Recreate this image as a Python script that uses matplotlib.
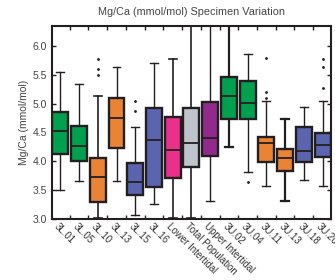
import matplotlib as mpl
mpl.use('Agg')
import matplotlib.pyplot as plt
import matplotlib.ticker as tick

#--------------------------------------------------------------------------------------------------------
# data (Mg/Ca, mmol/mol)

categories = ['3L.01', '3L.05', '3L.10', '3L.13', '3L.15', '3L.16',
              'Lower Intertidal', 'Total Population', 'Upper Intertidal',
              '3U.02', '3U.04', '3U.11', '3U.13', '3U.18', '3U.20']
whis_lo = [3.50, 3.65, 3.02, 3.65, 3.06, 3.25, 3.02, 3.02, 3.30, 4.25, 3.82, 3.56, 3.30, 3.68, 3.57]
q1      = [4.12, 4.00, 3.29, 4.23, 3.41, 3.55, 3.71, 3.90, 4.09, 4.74, 4.73, 3.98, 3.83, 3.98, 4.08]
median  = [4.52, 4.26, 3.72, 4.75, 3.63, 4.37, 4.20, 4.32, 4.41, 5.13, 5.02, 4.31, 4.05, 4.18, 4.28]
q3      = [4.85, 4.62, 4.06, 5.10, 3.97, 4.92, 4.77, 4.92, 5.03, 5.47, 5.40, 4.42, 4.22, 4.60, 4.49]
whis_hi = [5.55, 5.35, 5.13, 5.64, 4.59, 5.70, 5.77, 6.60, 6.60, 6.60, 5.87, 5.04, 4.73, 4.95, 5.05]
outliers = [[], [], [5.77, 5.60, 5.49], [], [5.04, 4.88], [], [], [], [],
            [], [3.64], [5.80, 5.21, 5.09], [], [], [5.77, 5.64, 5.28]]

#--------------------------------------------------------------------------------------------------------

green, orange, blue, pink, grey, purple = '#00a04f', '#ea8434', '#5b64ae', '#e8308c', '#bfc3cb', '#922a8e'
vColor = [green, green, orange, orange, blue, blue, pink, grey, purple,
          green, green, orange, orange, blue, blue]
vWhisLw = [1.0, 1.0, 1.2, 1.0, 1.0, 1.0, 1.2, 1.2, 1.0, 1.6, 1.0, 1.0, 1.6, 1.0, 1.0]
ink = '#231f20'

plt.rcParams['font.family'] = ['Liberation Sans', 'DejaVu Sans']

fig = plt.figure(figsize=(3.35, 2.8), dpi=100)
ax1 = fig.add_axes([51.5/335, 1-218.7/280, (331-51.5)/335, (218.7-26)/280])

stats = []
for i in range(len(categories)):
    stats.append(dict(label=categories[i], whislo=whis_lo[i], q1=q1[i], med=median[i],
                      q3=q3[i], whishi=whis_hi[i], fliers=outliers[i]))

pos = list(range(len(categories)))
bp = ax1.bxp(stats, positions=pos, widths=0.85, patch_artist=True, showfliers=True,
             boxprops=dict(edgecolor=ink, linewidth=1.7),
             medianprops=dict(color=ink, linewidth=1.3),
             whiskerprops=dict(color=ink, linewidth=1.0),
             capprops=dict(color=ink, linewidth=1.0),
             flierprops=dict(marker='o', markersize=1.0, markerfacecolor=ink, markeredgecolor=ink))
for i, b in enumerate(bp['boxes']):
    b.set_facecolor(vColor[i])
for i in range(len(categories)):
    for k in (2*i, 2*i+1):
        bp['whiskers'][k].set_linewidth(vWhisLw[i])
        bp['caps'][k].set_linewidth(vWhisLw[i])

ax1.set_xlim(-0.47, 14.45)
ax1.set_ylim(3.0, 6.35)
ax1.yaxis.set_major_locator(tick.MultipleLocator(0.5))
ax1.yaxis.set_major_formatter(tick.FormatStrFormatter('%.1f'))

ax1.set_xticks(pos)
ax1.set_xticklabels([])
ax1.xaxis.set_minor_locator(tick.FixedLocator([p + 0.5 for p in pos[:-1]]))
ax1.tick_params(axis='x', which='major', length=0)
ax1.tick_params(axis='x', which='minor', direction='in', bottom=True, top=True, length=3, width=1.0, color=ink)
ax1.tick_params(axis='y', which='major', direction='in', left=True, right=True, length=3, width=1.0,
                color=ink, labelsize=7.5, labelcolor='#444444', pad=3)

for p, lab in zip(pos, categories):
    ax1.text(p - 0.05, 2.96, lab, rotation=-45, rotation_mode='anchor', ha='left', va='top',
             fontsize=7, color='#333333', transform=ax1.transData, clip_on=False)

for s in ax1.spines.values():
    s.set_linewidth(1.5)
    s.set_color(ink)

ax1.set_ylabel('Mg/Ca (mmol/mol)', fontsize=7.5, color='#444444', labelpad=3)
ax1.set_title('Mg/Ca (mmol/mol) Specimen Variation', fontsize=7.8, color='#444444', pad=8)

plt.savefig('out.png', dpi=100)
